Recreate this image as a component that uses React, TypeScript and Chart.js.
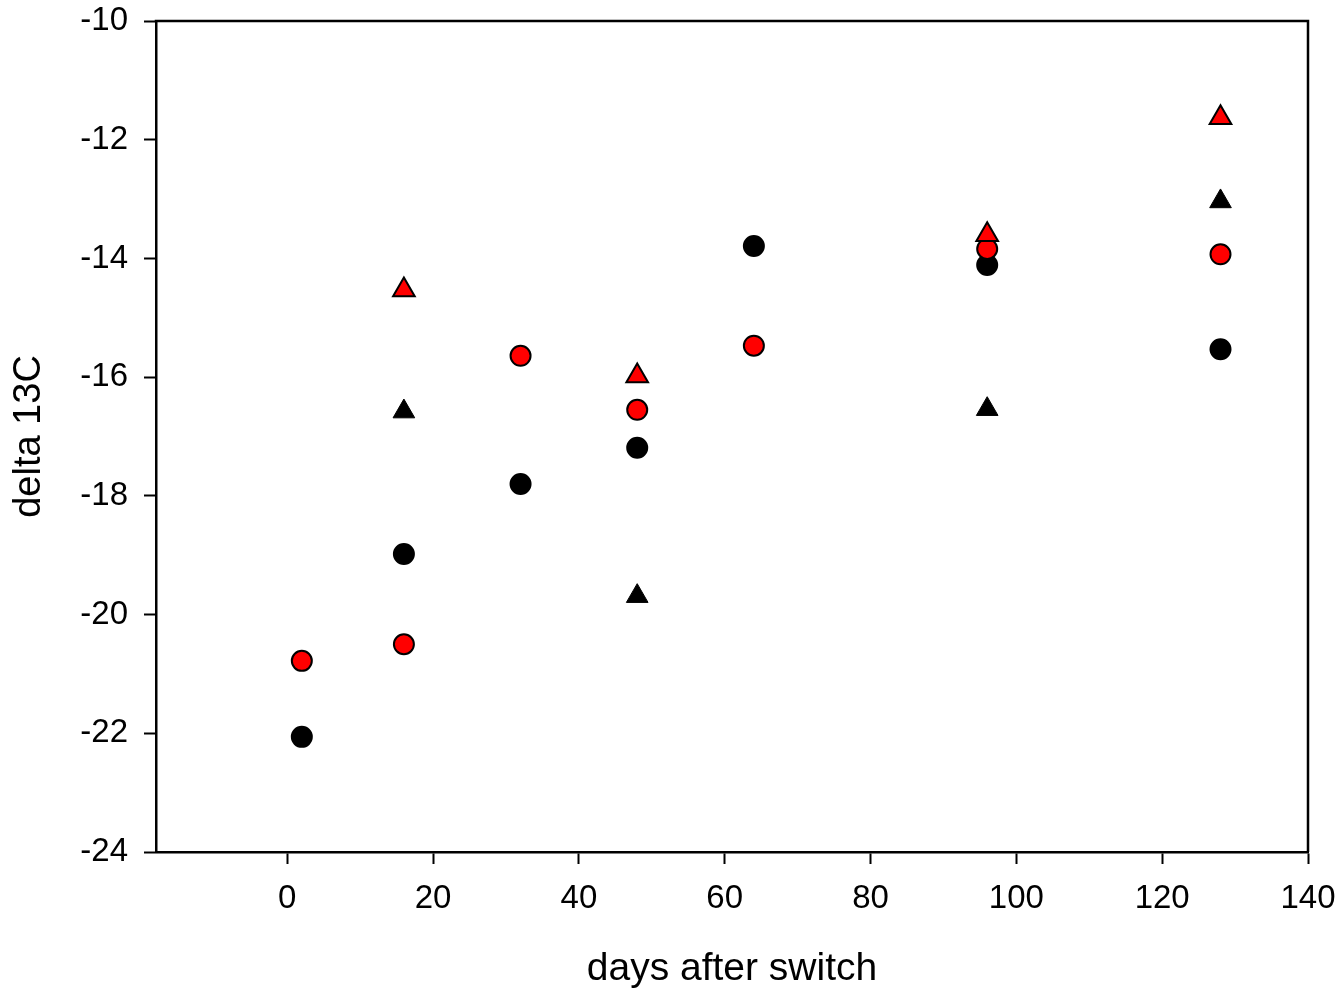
import React, { useEffect, useRef } from "react";
import { Chart, registerables } from "chart.js";

Chart.register(...registerables);

// Data
const circleDays = [2, 16, 32, 48, 64, 96, 128];
const blackCircleValues = [-22.06, -18.98, -17.8, -17.19, -13.79, -14.11, -15.53];
const redCircleValues = [-20.78, -20.5, -15.64, -16.55, -15.47, -13.84, -13.93];
const triangleDays = [16, 48, 96, 128];
const blackTriangleValues = [-16.58, -19.69, -16.54, -13.04];
const redTriangleValues = [-14.53, -15.98, -13.6, -11.63];

const xTitle = "days after switch";
const yTitle = "delta 13C";

const FONT = "'Liberation Sans', Arial, Helvetica, sans-serif";

const toPoints = (xs: number[], ys: number[]) => xs.map((x, i) => ({ x, y: ys[i] }));

const framePlugin = {
  id: "frame",
  afterDraw(chart: any) {
    const { ctx, chartArea } = chart;
    const { left, top, right, bottom } = chartArea;
    ctx.save();
    ctx.strokeStyle = "#000";
    ctx.lineWidth = 2.5;
    ctx.beginPath();
    ctx.moveTo(left - 1.25, top);
    ctx.lineTo(right, top);
    ctx.lineTo(right, bottom);
    ctx.stroke();
    ctx.restore();
  },
};

const zeroPadding = (s: any) => {
  s.paddingTop = 0;
  s.paddingBottom = 0;
  s.paddingLeft = 0;
  s.paddingRight = 0;
};

export default function App() {
  const canvasRef = useRef<HTMLCanvasElement | null>(null);

  useEffect(() => {
    if (!canvasRef.current) return;
    const chart = new Chart(canvasRef.current, {
      type: "scatter",
      data: {
        datasets: [
          {
            label: "red triangle",
            data: toPoints(triangleDays, redTriangleValues),
            pointStyle: "triangle",
            pointRadius: 12.5,
            backgroundColor: "#ff0000",
            borderColor: "#000",
            borderWidth: 2,
          },
          {
            label: "red circle",
            data: toPoints(circleDays, redCircleValues),
            pointStyle: "circle",
            pointRadius: 10,
            backgroundColor: "#ff0000",
            borderColor: "#000",
            borderWidth: 2,
          },
          {
            label: "black circle",
            data: toPoints(circleDays, blackCircleValues),
            pointStyle: "circle",
            pointRadius: 10,
            backgroundColor: "#000",
            borderColor: "#000",
            borderWidth: 2,
          },
          {
            label: "black triangle",
            data: toPoints(triangleDays, blackTriangleValues),
            pointStyle: "triangle",
            pointRadius: 12.5,
            backgroundColor: "#000",
            borderColor: "#000",
            borderWidth: 1,
          },
        ],
      },
      options: {
        animation: false,
        responsive: false,
        layout: { padding: { top: 21, right: 34, left: 0, bottom: 0 } },
        plugins: {
          legend: { display: false },
          tooltip: { enabled: false },
        },
        scales: {
          x: {
            type: "linear",
            min: -18,
            max: 140,
            ticks: {
              stepSize: 20,
              includeBounds: false,
              padding: 15,
              color: "#000",
              font: { family: FONT, size: 33 },
            },
            grid: {
              drawOnChartArea: false,
              drawTicks: true,
              tickLength: 12,
              tickWidth: 2,
              tickColor: "#000",
            },
            border: { color: "#000", width: 2.5 },
            title: {
              display: true,
              text: xTitle,
              color: "#000",
              font: { family: FONT, size: 39, lineHeight: 1.1 },
              padding: { top: 0, bottom: 0 },
            },
            afterFit: (s: any) => {
              s.height = 139;
              zeroPadding(s);
            },
          },
          y: {
            type: "linear",
            min: -24,
            max: -10,
            ticks: {
              stepSize: 2,
              padding: 16,
              color: "#000",
              font: { family: FONT, size: 33 },
            },
            grid: {
              drawOnChartArea: false,
              drawTicks: true,
              tickLength: 12,
              tickWidth: 2,
              tickColor: "#000",
            },
            border: { color: "#000", width: 2.5 },
            title: {
              display: true,
              text: yTitle,
              color: "#000",
              font: { family: FONT, size: 38, lineHeight: 1.1 },
              padding: { top: 9, bottom: 0 },
            },
            afterFit: (s: any) => {
              s.width = 156;
              zeroPadding(s);
            },
          },
        },
      },
      plugins: [framePlugin],
    });
    return () => chart.destroy();
  }, []);

  return (
    <div style={{ position: "absolute", left: 0, top: 0, width: 1342, height: 991, background: "#fff" }}>
      <canvas ref={canvasRef} width={1342} height={991} style={{ display: "block" }} />
    </div>
  );
}
